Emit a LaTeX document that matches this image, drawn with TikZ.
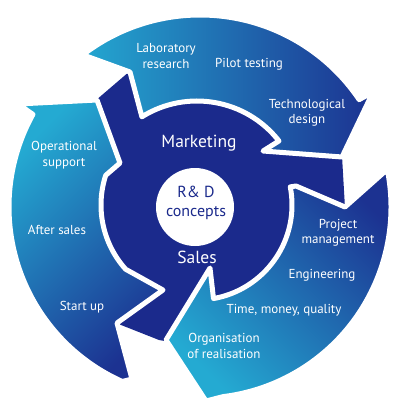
\documentclass[tikz,border=0pt]{standalone}
\usepackage{fontspec}
\setmainfont{PT Sans}
\usetikzlibrary{calc}
\definecolor{rdteal}{RGB}{36,170,210}
\definecolor{rdblue}{RGB}{28,50,145}
\definecolor{rdnavy}{RGB}{27,42,140}
\tikzset{
  ring/.style={draw=white, line width=5, line join=round},
  lbl/.style={text=white, align=center, font=\fontsize{13}{15.5}\selectfont},
  core/.style={text=white, font=\fontsize{17.5}{15}\selectfont},
}
\begin{document}
\begin{tikzpicture}[x=1pt, y=-1pt]
  \useasboundingbox (0,0) rectangle (400,412);
  \coordinate (O) at (200,207);
  \coordinate (Oi) at (197,205);
  % inner swirl
  \fill[rdnavy] (Oi) circle[radius=104];
  \fill[rdnavy] (95,101) -- (130,71) -- (148,125) -- (150,170) -- (112,168) -- cycle;
  \fill[rdnavy] (255,147) -- (342,156) -- (345,208) -- (292,196) -- cycle;
  \fill[rdnavy] (165,285) -- (116,323) -- (159,340) -- (170,342) -- (214,268) -- (200,255) -- cycle;
  % outer arrows
  \path[ring, top color=rdteal, bottom color=rdblue, shading angle=90]
    (75,52) -- ($(O)+(233:192)$) arc[start angle=233, end angle=326, radius=192]
    -- (373,92) -- (342,157) -- (263,151)
    -- ($(Oi)+(322:104)$) arc[start angle=322, end angle=238, radius=104]
    -- (130,72) -- cycle;
  \path[ring, top color=rdteal, bottom color=rdblue, shading angle=135]
    (390,167) -- ($(O)+(-10:191)$) arc[start angle=-10, end angle=83, radius=191]
    -- (206,401) -- (166,340) -- (210,268)
    -- ($(Oi)+(80:95)$) arc[start angle=80, end angle=-11, radius=95]
    -- (296,186) -- (345,207) -- cycle;
  \path[ring, top color=rdteal, bottom color=rdblue, shading angle=45]
    (132,379) -- ($(O)+(114:191)$) arc[start angle=114, end angle=209, radius=191]
    -- (18,104) -- (97,100) -- (120,163)
    -- ($(Oi)+(198:96)$) arc[start angle=198, end angle=138, radius=96]
    -- (163,290) -- (117,323) -- cycle;
  \fill[white] (195,207) circle[radius=39];
  % labels
  \node[lbl] (lab) at (166,56) {Laboratory\\research};
  \node[lbl] (pilot) at (249,64) {Pilot testing};
  \node[lbl] (tech) at (307,113) {Technological\\design};
  \node[lbl] (proj) at (338,233) {Project\\management};
  \node[lbl] (eng) at (322,275) {Engineering};
  \node[lbl] (tmq) at (284,310) {Time, money, quality};
  \node[lbl] (org) at (224,346) {Organisation\\of realisation};
  \node[lbl] (start) at (82,307) {Start up};
  \node[lbl] (after) at (57,230) {After sales};
  \node[lbl] (ops) at (64,155) {Operational\\support};
  \node[core] (mkt) at (199,143) {Marketing};
  \node[core] (sales) at (197,257) {Sales};
  \node[core, text=rdnavy, align=center, font=\fontsize{16}{19}\selectfont] (rd) at (196,203) {R\& D\\concepts};
\end{tikzpicture}
\end{document}
